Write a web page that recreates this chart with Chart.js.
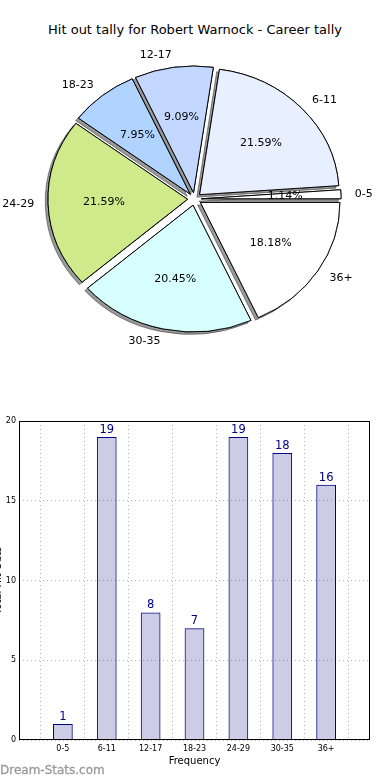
<!DOCTYPE html>
<html><head><meta charset="utf-8">
<script src="https://cdn.jsdelivr.net/npm/chart.js@4/dist/chart.umd.min.js"></script>
<style>
html,body{margin:0;padding:0;background:#fff;width:390px;height:780px;overflow:hidden;position:relative;font-family:"DejaVu Sans",sans-serif;}
#title{position:absolute;left:0;top:22px;width:390px;text-align:center;font-size:13px;line-height:16px;color:#000;white-space:nowrap;}
#pieWrap{position:absolute;left:0;top:0;width:389px;height:398px;}
#barWrap{position:absolute;left:-9px;top:405px;width:399px;height:365px;}
#wm{position:absolute;left:0;top:762px;font-size:12px;line-height:16px;font-weight:normal;color:#999;white-space:nowrap;-webkit-text-stroke:0.3px #999;}
</style></head><body>
<div id="title">Hit out tally for Robert Warnock - Career tally</div>
<div id="pieWrap"><canvas id="pie" width="389" height="398"></canvas></div>
<div id="barWrap"><canvas id="bar" width="399" height="365"></canvas></div>
<div id="wm">Dream-Stats.com</div>
<script>
// ---- data ----
const categories = ['0-5', '6-11', '12-17', '18-23', '24-29', '30-35', '36+'];
const tally = [1, 19, 8, 7, 19, 18, 16];
const sliceColors = ['#ffffff', '#e8f0ff', '#c4d8ff', '#b0d4ff', '#cfea8a', '#d8ffff', '#ffffff'];
const yTicks = [0, 5, 10, 15, 20];
const xTitle = 'Frequency';
const yTitle = 'Total Hit Outs';

const FONT = '"DejaVu Sans", sans-serif';
const EXPLODE = 7;      // px, explode offset
const SCALE_Y = 0.908;  // vertical squash of the pie (non-equal aspect)
const total = tally.reduce((a, b) => a + b, 0);

// pie slices are listed clockwise in Chart.js; matplotlib goes counter-clockwise, so reverse
const pieLabels = categories.slice().reverse();
const pieValues = tally.slice().reverse();
const pieColors = sliceColors.slice().reverse();

const piePlugin = {
  id: 'explodedPie',
  beforeDatasetsDraw(chart) {
    const ctx = chart.ctx;
    const arcs = chart.getDatasetMeta(0).data;
    const cx = arcs[0].x, cy = arcs[0].y;
    const pass = (shadow) => {
      arcs.forEach(a => {
        const mid = (a.startAngle + a.endAngle) / 2;
        ctx.save();
        ctx.translate(cx, cy); ctx.scale(1, SCALE_Y); ctx.translate(-cx, -cy);
        ctx.translate(Math.cos(mid) * EXPLODE, Math.sin(mid) * EXPLODE);
        if (shadow) {
          ctx.shadowColor = 'rgba(0,0,0,0.4)';
          ctx.shadowOffsetX = -2.8;
          ctx.shadowOffsetY = 2.5;
          ctx.shadowBlur = 0;
        }
        a.draw(ctx);
        ctx.restore();
      });
    };
    pass(true);
    pass(false);
    return false;
  },
  afterDraw(chart) {
    const ctx = chart.ctx;
    const arcs = chart.getDatasetMeta(0).data;
    const labels = chart.data.labels;
    const vals = chart.data.datasets[0].data;
    ctx.save();
    ctx.font = '11px ' + FONT;
    ctx.fillStyle = '#000';
    ctx.textBaseline = 'middle';
    arcs.forEach((a, i) => {
      const cx = a.x, cy = a.y, R = a.outerRadius;
      const mid = (a.startAngle + a.endAngle) / 2;
      const ex = cx + Math.cos(mid) * EXPLODE, ey = cy + Math.sin(mid) * EXPLODE;
      // outer label
      let lx = ex + Math.cos(mid) * R * 1.1;
      let ly = ey + Math.sin(mid) * R * 1.1;
      ly = cy + (ly - cy) * SCALE_Y;
      ctx.textAlign = (lx - cx) > 0 ? 'left' : 'right';
      ctx.fillText(labels[i], lx, ly);
      // percentage
      let px = ex + Math.cos(mid) * R * 0.6;
      let py = ey + Math.sin(mid) * R * 0.6;
      py = cy + (py - cy) * SCALE_Y;
      ctx.textAlign = 'center';
      ctx.fillText((vals[i] / total * 100).toFixed(2) + '%', px, py);
    });
    ctx.restore();
  }
};

new Chart(document.getElementById('pie'), {
  type: 'pie',
  data: {
    labels: pieLabels,
    datasets: [{
      data: pieValues,
      backgroundColor: pieColors,
      borderColor: '#000',
      borderWidth: 1
    }]
  },
  options: {
    responsive: false,
    animation: false,
    events: [],
    rotation: 90,
    radius: 139.5,
    layout: { padding: 0 },
    plugins: { legend: { display: false }, tooltip: { enabled: false }, title: { display: false } }
  },
  plugins: [piePlugin]
});

// ---- bar chart ----
const barLabels = [''].concat(categories, ['']);
const barData = [null].concat(tally, [null]);

const barPlugin = {
  id: 'barExtras',
  afterDatasetsDraw(chart) {
    const ctx = chart.ctx;
    const meta = chart.getDatasetMeta(0);
    ctx.save();
    ctx.font = '11.5px ' + FONT;
    ctx.fillStyle = '#000080';
    ctx.textAlign = 'center';
    ctx.textBaseline = 'alphabetic';
    meta.data.forEach((el, i) => {
      const v = chart.data.datasets[0].data[i];
      if (v === null || v === undefined) return;
      ctx.fillText(String(v), el.x, el.y - 4);
    });
    ctx.restore();
  },
  afterDraw(chart) {
    const ctx = chart.ctx;
    const a = chart.chartArea;
    ctx.save();
    ctx.strokeStyle = '#000';
    ctx.lineWidth = 1;
    ctx.strokeRect(Math.round(a.left) + 0.5, Math.round(a.top) + 0.5,
                   Math.round(a.right - a.left) - 1, Math.round(a.bottom - a.top) - 1);
    ctx.restore();
  }
};

new Chart(document.getElementById('bar'), {
  type: 'bar',
  data: {
    labels: barLabels,
    datasets: [{
      data: barData,
      backgroundColor: 'rgba(0,0,128,0.2)',
      borderColor: '#000080',
      borderWidth: 1,
      barPercentage: 0.45,
      categoryPercentage: 1
    }]
  },
  options: {
    responsive: false,
    animation: false,
    events: [],
    layout: { padding: { top: 16, right: 20, left: 0, bottom: 0 } },
    plugins: { legend: { display: false }, tooltip: { enabled: false } },
    scales: {
      x: {
        type: 'category',
        offset: false,
        grid: { display: true, color: '#b4b4b4', lineWidth: 1, drawTicks: false },
        border: { display: false, dash: [1, 3] },
        ticks: { font: { size: 8, family: FONT }, color: '#000', padding: 4, autoSkip: false, maxRotation: 0 },
        title: { display: true, text: xTitle, font: { size: 10, family: FONT }, color: '#000', padding: { top: 0, bottom: 3 } },
        afterFit(s) { s.height = 30; }
      },
      y: {
        min: yTicks[0],
        max: yTicks[yTicks.length - 1],
        afterBuildTicks(s) { s.ticks = yTicks.map(v => ({ value: v })); },
        grid: { display: true, color: '#b4b4b4', lineWidth: 1, drawTicks: false },
        border: { display: false, dash: [1, 3] },
        ticks: { font: { size: 8, family: FONT }, color: '#000', padding: 3 },
        title: { display: true, text: yTitle, font: { size: 10, family: FONT }, color: '#000', padding: { top: 1, bottom: 0 } },
        afterFit(s) { s.width = 28; }
      }
    }
  },
  plugins: [barPlugin]
});
</script>
</body></html>
